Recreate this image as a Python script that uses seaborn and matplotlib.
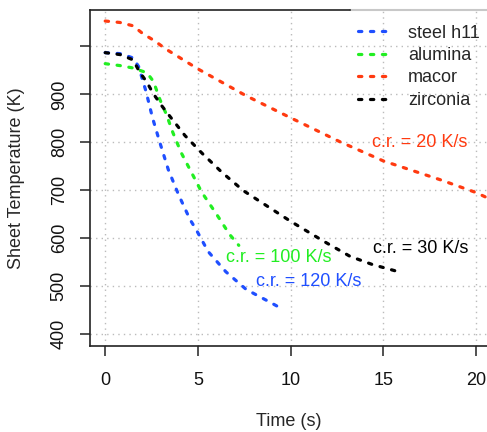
import numpy as np
import pandas as pd
import matplotlib
matplotlib.use("Agg")
import matplotlib.pyplot as plt
import seaborn as sns

# ----- Data -----------------------------------------------------------------
steel_t = [0, 0.8, 1.5, 1.8, 2.2, 2.55, 2.95, 3.4, 3.95, 4.57, 4.9, 5.55, 6.5, 7.6, 8.9, 9.6]
steel_T = [987, 985, 976, 958, 906, 851, 799, 743, 691, 639, 618, 572, 530, 493, 466, 451]

alumina_t = [0, 0.8, 1.5, 2.25, 2.6, 2.95, 3.3, 3.65, 4.1, 4.57, 5.2, 6.0, 6.7, 7.2]
alumina_T = [964, 960, 955, 945, 927, 889, 858, 820, 778, 743, 696, 650, 608, 585]

macor_t = [0, 0.79, 1.5, 2.05, 2.65, 3.25, 5.0, 7.6, 10.0, 12.66, 15.0, 18.05, 20.0, 20.6]
macor_T = [1053, 1050, 1043, 1026, 1012, 995, 953, 897, 851, 801, 761, 722, 695, 684]

zirconia_t = [0, 0.8, 1.5, 1.85, 2.25, 2.6, 3.05, 3.45, 4.3, 5.25, 6.3, 7.45, 10.0, 11.8, 13.2, 14.4, 15.9]
zirconia_T = [987, 983, 972, 947, 925, 901, 876, 856, 814, 776, 737, 699, 635, 593, 562, 545, 529]

materials = ["steel h11", "alumina", "macor", "zirconia"]
colors = ["#1f4fff", "#22ee22", "#ff3a10", "#000000"]

notes = ["c.r. = 20 K/s", "c.r. = 30 K/s", "c.r. = 100 K/s", "c.r. = 120 K/s"]
note_t = [16.96, 17.0, 9.37, 10.98]
note_T = [799, 578, 560, 510]
note_colors = ["#ff3a10", "#000000", "#22ee22", "#1f4fff"]

x_ticks = [0, 5, 10, 15, 20]
y_ticks = [400, 500, 600, 700, 800, 900, 1000]
y_labels = ["400", "500", "600", "700", "800", "900", ""]

# ----- Long-form table ------------------------------------------------------
frames = []
for name, t, T in zip(materials,
                      [steel_t, alumina_t, macor_t, zirconia_t],
                      [steel_T, alumina_T, macor_T, zirconia_T]):
    frames.append(pd.DataFrame({"time": t, "temp": T, "material": name}))
df = pd.concat(frames, ignore_index=True)

sns.set_style("white")
plt.rcParams["font.family"] = ["Liberation Sans", "DejaVu Sans"]
plt.rcParams["lines.scale_dashes"] = False

LW = 2.3
DASH = (0, (2.4, 6.2))

fig = plt.figure(figsize=(4.87, 4.32), dpi=100)
ax = fig.add_axes([90 / 487, 86 / 432, 397 / 487, 336 / 432])

sns.lineplot(data=df, x="time", y="temp", hue="material", hue_order=materials,
             palette=colors, ax=ax, linewidth=LW, sort=False,
             estimator=None, legend=True)
for line in ax.lines:
    line.set_linestyle(DASH)
    line.set_dash_capstyle("round")

for txt, t, T, c in zip(notes, note_t, note_T, note_colors):
    ax.text(t, T, txt, color=c, fontsize=13, ha="center", va="center")

ax.set_xlim(-0.82, 20.58)
ax.set_ylim(375, 1076)
ax.set_xticks(x_ticks)
ax.set_yticks(y_ticks)
ax.set_yticklabels(y_labels, rotation=90, va="center")
ax.tick_params(axis="both", direction="out", length=7, width=1.2,
               labelsize=13, color="#333333", labelcolor="#111111",
               left=True, bottom=True)
ax.tick_params(axis="x", pad=12)
ax.tick_params(axis="y", pad=9)
ax.grid(True, color="#bbbbbb", linestyle=(0, (1, 3)), linewidth=1)
for side in ["left", "bottom", "top"]:
    ax.spines[side].set_color("#222222")
    ax.spines[side].set_linewidth(1.2)
ax.spines["right"].set_visible(False)
# top border: dark on the left, light grey behind the legend
ax.spines["top"].set_bounds(-0.82, 13.2)
ax.axhline(1076, xmin=(13.2 + 0.82) / 21.4, xmax=1, color="#c8c8c8",
           linewidth=1.5, clip_on=False)

ax.set_xlabel("Time (s)", fontsize=13, labelpad=17)
ax.set_ylabel("Sheet Temperature (K)", fontsize=13)
ax.yaxis.set_label_coords(-0.163, 0.5)

leg = ax.legend(loc="upper right", frameon=False, fontsize=13,
                handlelength=1.8, handletextpad=0.95, labelspacing=0.3,
                borderaxespad=0.0, bbox_to_anchor=(1.0, 0.978))
for h in leg.get_lines():
    h.set_linewidth(LW)
    h.set_linestyle(DASH)
    h.set_dash_capstyle("round")

fig.savefig("out.png", dpi=100)
